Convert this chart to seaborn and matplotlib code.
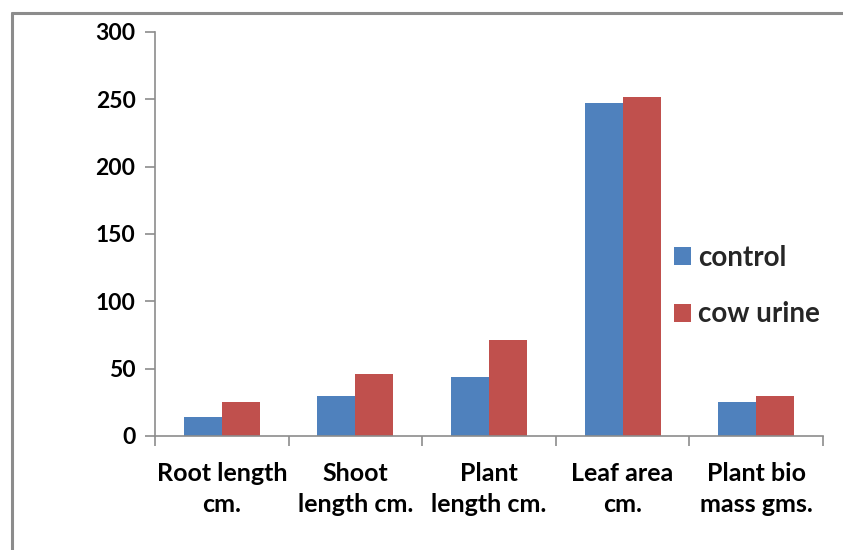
import matplotlib
matplotlib.use("Agg")
import matplotlib.pyplot as plt
import seaborn as sns
import pandas as pd
from matplotlib.lines import Line2D
from matplotlib.ticker import FixedLocator

categories = ["Root length\ncm.", "Shoot\nlength cm.", "Plant\nlength cm.", "Leaf area\ncm.", "Plant bio\nmass gms."]
control = [14, 30, 44, 247, 25]
cow_urine = [25, 46, 71, 252, 30]
series_names = ["control", "cow urine"]
colors = ["#4F81BD", "#C0504D"]
y_ticks = [0, 50, 100, 150, 200, 250, 300]

df = pd.DataFrame({
    "category": categories * 2,
    "value": control + cow_urine,
    "series": [series_names[0]] * len(categories) + [series_names[1]] * len(categories),
})

sns.set_theme(style="white")
plt.rcParams['font.family'] = ['Lato', 'DejaVu Sans']

fig = plt.figure(figsize=(8.43, 5.5), dpi=100)
ax = fig.add_axes([155/843, 1-436/550, (823-155)/843, (436-32)/550])

sns.barplot(data=df, x="category", y="value", hue="series", palette=colors,
            width=0.57, saturation=1, ax=ax, legend=True, linewidth=0)

ax.set_xlim(-0.5, len(categories) - 0.5)
ax.set_ylim(0, 300)
ax.set_yticks(y_ticks)
ax.set_xlabel("")
ax.set_ylabel("")

for s in ["top", "right"]:
    ax.spines[s].set_visible(False)
for s in ["left", "bottom"]:
    ax.spines[s].set_color("#8c8c8c")
    ax.spines[s].set_linewidth(1.2)

ax.tick_params(axis="y", direction="out", length=7, color="#8c8c8c", width=1.2,
               labelsize=16.5, pad=7, left=True)
ax.tick_params(axis="x", which="major", length=0, labelsize=18, pad=19)
ax.xaxis.set_minor_locator(FixedLocator([i - 0.5 for i in range(len(categories) + 1)]))
ax.tick_params(axis="x", which="minor", direction="out", length=7, color="#8c8c8c", width=1.2, bottom=True)
for lab in ax.get_xticklabels() + ax.get_yticklabels():
    lab.set_fontweight("bold")
    lab.set_color("black")
for lab in ax.get_xticklabels():
    lab.set_linespacing(1.42)

handles, labels = ax.get_legend_handles_labels()
ax.legend(handles, labels, loc="center left", bbox_to_anchor=(668/843, 1-286/550),
          bbox_transform=fig.transFigure, frameon=False,
          handlelength=0.62, handleheight=0.62, handletextpad=0.25, labelspacing=1.1,
          borderaxespad=0, borderpad=0.2,
          prop={"weight": "bold", "size": 20})

fig.add_artist(Line2D([12/843, 12/843], [0, 1-13/550], color="#8c8c8c", lw=2.2, transform=fig.transFigure))
fig.add_artist(Line2D([12/843, 1], [1-13/550, 1-13/550], color="#8c8c8c", lw=2.2, transform=fig.transFigure))

fig.savefig("out.png", dpi=100)
